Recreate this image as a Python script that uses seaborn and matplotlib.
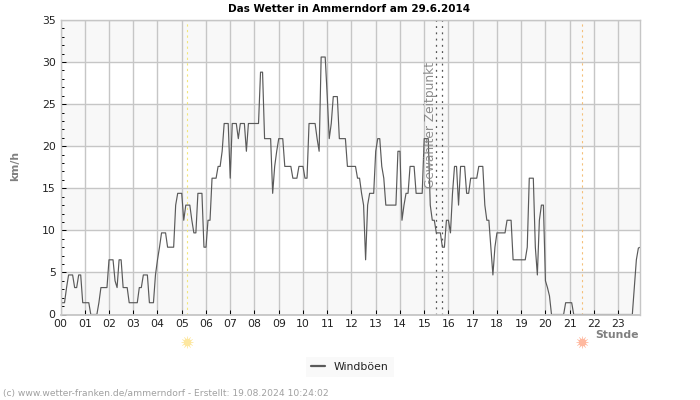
import matplotlib
matplotlib.use("Agg")
import matplotlib.pyplot as plt
import seaborn as sns
import pandas as pd
import numpy as np

# wind gusts in km/h, one row per hour, 5 minute readings
gusts = [
    1.4, 1.4, 1.4, 3.2, 4.7, 4.7, 4.7, 3.2, 3.2, 4.7, 4.7, 1.4,
    1.4, 1.4, 1.4, 0, 0, 0, 0, 1.4, 3.2, 3.2, 3.2, 3.2,
    6.5, 6.5, 6.5, 4.0, 3.2, 6.5, 6.5, 3.2, 3.2, 3.2, 1.4, 1.4,
    1.4, 1.4, 1.4, 3.2, 3.2, 4.7, 4.7, 4.7, 1.4, 1.4, 1.4, 4.7,
    6.5, 8, 9.7, 9.7, 9.7, 8, 8, 8, 8, 13, 14.4, 14.4,
    14.4, 11.2, 13, 13, 13, 11.2, 9.7, 9.7, 14.4, 14.4, 14.4, 8,
    8, 11.2, 11.2, 16.2, 16.2, 16.2, 17.6, 17.6, 19.4, 22.7, 22.7, 22.7,
    16.2, 22.7, 22.7, 22.7, 20.9, 22.7, 22.7, 22.7, 19.4, 22.7, 22.7, 22.7,
    22.7, 22.7, 22.7, 28.8, 28.8, 20.9, 20.9, 20.9, 20.9, 14.4, 17.6, 19.4,
    20.9, 20.9, 20.9, 17.6, 17.6, 17.6, 17.6, 16.2, 16.2, 16.2, 17.6, 17.6,
    17.6, 16.2, 16.2, 22.7, 22.7, 22.7, 22.7, 20.9, 19.4, 30.6, 30.6, 30.6,
    26, 20.9, 22.7, 25.9, 25.9, 25.9, 20.9, 20.9, 20.9, 20.9, 17.6, 17.6,
    17.6, 17.6, 17.6, 16.2, 16.2, 14.4, 13, 6.5, 13, 14.4, 14.4, 14.4,
    19.4, 20.9, 20.9, 17.6, 16.2, 13, 13, 13, 13, 13, 13, 19.4,
    19.4, 11.2, 13, 14.4, 14.4, 17.6, 17.6, 17.6, 14.4, 14.4, 14.4, 14.4,
    20.9, 20.9, 20.9, 13, 11.2, 11.2, 9.7, 9.7, 9.7, 8, 8, 11.2,
    11.2, 9.7, 14.4, 17.6, 17.6, 13, 17.6, 17.6, 17.6, 14.4, 14.4, 16.2,
    16.2, 16.2, 16.2, 17.6, 17.6, 17.6, 13, 11.2, 11.2, 8, 4.7, 8,
    9.7, 9.7, 9.7, 9.7, 9.7, 11.2, 11.2, 11.2, 6.5, 6.5, 6.5, 6.5,
    6.5, 6.5, 6.5, 8, 16.2, 16.2, 16.2, 8, 4.7, 11.2, 13, 13,
    4.0, 3.2, 2.2, 0, 0, 0, 0, 0, 0, 0, 1.4, 1.4,
    1.4, 1.4, 0, 0, 0, 0, 0, 0, 0, 0, 0, 0,
    0, 0, 0, 0, 0, 0, 0, 0, 0, 0, 0, 0,
    0, 0, 0, 0, 0, 0, 0, 0, 3.2, 6.5, 7.9, 8,
]
hour_labels = ["%02d" % h for h in range(24)]
y_ticks = [0, 5, 10, 15, 20, 25, 30, 35]
sunrise = 5.23
sunset = 21.49
selected = [15.5, 15.75]

df = pd.DataFrame({"hour": np.arange(len(gusts)) * 5 / 60, "kmh": gusts})

sns.set_style("white")
GRID = "#c6c6c6"
plt.rcParams["font.family"] = ["DejaVu Sans"]

fig = plt.figure(figsize=(7, 4), dpi=100)
ax = fig.add_axes([60.5 / 700, 1 - 314.5 / 400, 579.5 / 700, 294.5 / 400])

for low in [0, 10, 20, 30]:
    ax.axhspan(low, low + 5, color="#f8f8f8", lw=0, zorder=0)

sns.lineplot(data=df, x="hour", y="kmh", ax=ax, color="#5a5a5a", lw=0.85,
             estimator=None, errorbar=None, label="Windböen", zorder=3)

ax.set_xlim(0, 23.9)
ax.set_ylim(0, 35)
ax.set_xticks(range(24))
ax.set_xticklabels(hour_labels)
ax.set_yticks(y_ticks)
ax.set_yticks([v for v in range(35) if v % 5], minor=True)
ax.grid(True, which="major", color=GRID, lw=1, zorder=1)
ax.set_axisbelow(True)
ax.tick_params(axis="both", which="major", direction="in", length=3.5, width=0.7,
               color="black", labelsize=7.8, labelcolor="#222222", pad=3.5,
               left=True, bottom=True)
ax.tick_params(axis="y", which="minor", direction="in", length=1.8, width=0.7,
               color="black", left=True)
for spine in ax.spines.values():
    spine.set_color(GRID)
    spine.set_linewidth(1)
    spine.set_zorder(4)
ax.spines["bottom"].set_linewidth(1.3)

ax.set_xlabel("")
ax.set_ylabel("")

# sun up and down
ax.axvline(sunrise, color="#f2e67a", lw=0.8, ls=(0, (2, 3)), zorder=2)
ax.axvline(sunset, color="#f5c07a", lw=0.8, ls=(0, (2, 3)), zorder=2)
for pos, col in [(sunrise, "#fde7a0"), (sunset, "#ffb9a0")]:
    tr = ax.get_xaxis_transform()
    ax.plot(pos, -0.092, marker="o", ms=5.5, color=col, mew=0, transform=tr, clip_on=False)
    ax.plot(pos, -0.092, marker=(12, 2, 0), ms=8.5, color=col, mew=0.4, alpha=0.8,
            transform=tr, clip_on=False)

# selected time
for pos in selected:
    ax.axvline(pos, color="#555555", lw=0.9, ls=(0, (1.5, 3.5)), zorder=2)
ax.text(15.27, 22.5, "Gewählter Zeitpunkt", rotation=90, fontsize=8.8, color="#808080",
        alpha=0.9, ha="center", va="center", zorder=5)

fig.text(349.5 / 700, 1 - 8.5 / 400, "Das Wetter in Ammerndorf am 29.6.2014", fontsize=7.5,
         fontweight="bold", color="black", ha="center", va="center")
fig.text(15 / 700, 1 - 166 / 400, "km/h", fontsize=7.8, fontweight="bold", color="#808080",
         rotation=90, ha="center", va="center")
fig.text(639 / 700, 1 - 334.5 / 400, "Stunde", fontsize=7.8, fontweight="bold", color="#808080",
         ha="right", va="center")
fig.text(3 / 700, 1 - 393.5 / 400, "(c) www.wetter-franken.de/ammerndorf - Erstellt: 19.08.2024 10:24:02",
         fontsize=6.6, color="#a0a0a0", ha="left", va="center")

leg = ax.legend(loc="center", bbox_to_anchor=(350 / 700, 1 - 367 / 400),
                bbox_transform=fig.transFigure, frameon=True, fontsize=7.8,
                handlelength=1.3, handletextpad=0.8, borderpad=0.5, fancybox=False)
leg.get_frame().set_facecolor("#f8f8f8")
leg.get_frame().set_edgecolor("none")
leg.get_lines()[0].set_linewidth(1.6)
for t in leg.get_texts():
    t.set_color("#222222")

fig.savefig("out.png", dpi=100)
